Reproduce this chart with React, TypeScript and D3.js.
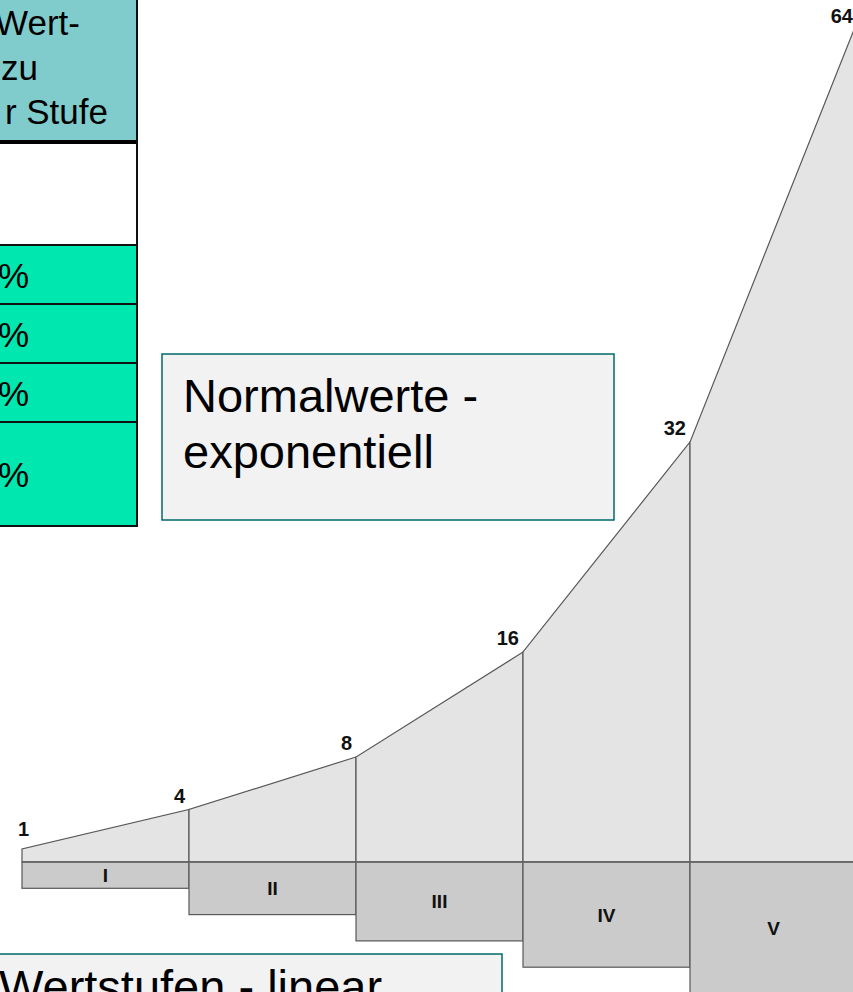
import React from "react";
import * as d3 from "d3";

// Exponential normal values at each boundary
const normalValues = [1, 4, 8, 16, 32, 64];
// Linear value levels (Wertstufen)
const stufen = ["I", "II", "III", "IV", "V"];
const stufenDepth = [1, 2, 3, 4, 5];
// Table fragments visible at the left edge
const headerLines = ["Wert-", "zu", "r Stufe"];
const tableRows = ["", "%", "%", "%", "%"];
const rowHeights = [101, 59, 59, 59, 104];

const W = 853;
const H = 992;
const FONT = "Liberation Sans, Arial, Helvetica, sans-serif";

export default function App() {
  const x = d3.scaleLinear().domain([0, 5]).range([22, 857]);
  const y = d3.scaleLinear().domain([0, 64]).range([862, 22]);
  const depth = d3.scaleLinear().domain([0, 5]).range([0, 131.5]);
  const base = y(0);

  const segs = stufen.map((s, i) => ({
    label: s,
    x0: x(i),
    x1: x(i + 1),
    v0: normalValues[i],
    v1: normalValues[i + 1],
    d: stufenDepth[i],
  }));

  const headerBottom = 142;
  let acc = headerBottom + 2;
  const rows = tableRows.map((t, i) => {
    const r = { t, y0: acc, y1: acc + rowHeights[i], i };
    acc += rowHeights[i];
    return r;
  });

  const stroke = "#585858";

  return (
    <svg
      width={W}
      height={H}
      style={{ position: "absolute", left: 0, top: 0, display: "block", background: "#fff" }}
    >
      {/* Table */}
      <rect x={-5} y={-5} width={142} height={headerBottom + 5} fill="#80cccc" />
      {headerLines.map((l, i) => (
        <text
          key={l}
          x={[80, 38, 108][i]}
          y={35 + i * 44.5}
          textAnchor="end"
          fontFamily={FONT}
          fontSize={35}
          fill="#000"
        >
          {l}
        </text>
      ))}
      {rows.map((r) => (
        <g key={r.i}>
          <rect
            x={-5}
            y={r.y0}
            width={142}
            height={r.y1 - r.y0}
            fill={r.i === 0 ? "#ffffff" : "#00e8b0"}
          />
          {r.t && (
            <text
              x={-2}
              y={(r.y0 + r.y1) / 2 + 13}
              fontFamily={FONT}
              fontSize={35}
              fill="#000"
            >
              {r.t}
            </text>
          )}
        </g>
      ))}
      {rows.map((r) => (
        <line key={"l" + r.i} x1={-5} x2={138} y1={r.y1} y2={r.y1} stroke="#111" strokeWidth={2} />
      ))}
      <line x1={-5} x2={138} y1={headerBottom} y2={headerBottom} stroke="#000" strokeWidth={4} />
      <line x1={137} x2={137} y1={-5} y2={rows[rows.length - 1].y1 + 1} stroke="#111" strokeWidth={2} />

      {/* Normalwerte box */}
      <rect x={162} y={354} width={452} height={166} fill="#f2f2f2" stroke="#006a6a" strokeWidth={1.5} />
      <text x={183} y={412} fontFamily={FONT} fontSize={47} fill="#000">
        Normalwerte -
      </text>
      <text x={183} y={468} fontFamily={FONT} fontSize={47} fill="#000">
        exponentiell
      </text>

      {/* Upper exponential area */}
      {segs.map((s) => (
        <polygon
          key={"u" + s.label}
          points={[
            [s.x0, base],
            [s.x0, y(s.v0)],
            [s.x1, y(s.v1)],
            [s.x1, base],
          ]
            .map((p) => p.join(","))
            .join(" ")}
          fill="#e4e4e4"
          stroke={stroke}
          strokeWidth={1.2}
        />
      ))}
      {/* Lower linear bars */}
      {segs.map((s) => (
        <rect
          key={"b" + s.label}
          x={s.x0}
          y={base}
          width={s.x1 - s.x0}
          height={depth(s.d)}
          fill="#cbcbcb"
          stroke={stroke}
          strokeWidth={1.2}
        />
      ))}
      <line x1={x(0)} x2={W} y1={base} y2={base} stroke="#666" strokeWidth={1.6} />
      {segs.map((s) => (
        <text
          key={"t" + s.label}
          x={(s.x0 + s.x1) / 2}
          y={base + depth(s.d) / 2 + 7}
          textAnchor="middle"
          fontFamily={FONT}
          fontWeight="bold"
          fontSize={19}
          fill="#111"
        >
          {s.label}
        </text>
      ))}
      {normalValues.map((v, i) => (
        <text
          key={"v" + v}
          x={x(i) - 4}
          y={i === 0 ? y(v) - 13 : Math.max(y(v) - 7, 23)}
          textAnchor={i === 0 ? "start" : "end"}
          fontFamily={FONT}
          fontWeight="bold"
          fontSize={20}
          fill="#111"
        >
          {v}
        </text>
      ))}

      {/* Wertstufen box */}
      <rect x={-3} y={954} width={505} height={60} fill="#f2f2f2" stroke="#006a6a" strokeWidth={1.5} />
      <text x={-1} y={1003} fontFamily={FONT} fontSize={47} fill="#000">
        Wertstufen - linear
      </text>
    </svg>
  );
}
